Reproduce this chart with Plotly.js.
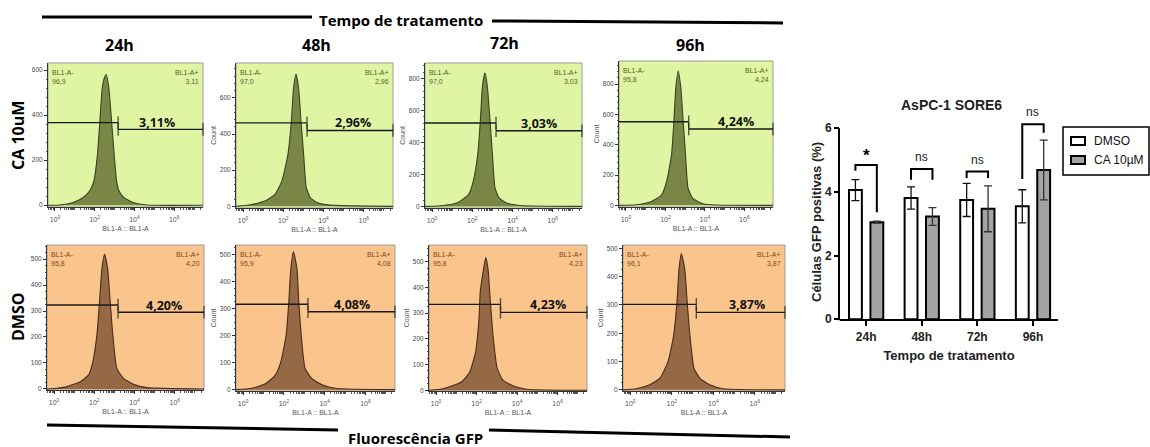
<!DOCTYPE html>
<html><head><meta charset="utf-8">
<script src="https://cdn.plot.ly/plotly-3.0.1.min.js"></script>
<style>html,body{margin:0;padding:0;background:#fff;overflow:hidden;}#chart{width:1150px;height:447px;}</style>
</head><body><div id="chart"></div>
<script>
// ================= DATA =================
const timepoints = ['24h', '48h', '72h', '96h'];
const treatments = ['CA 10uM', 'DMSO'];
const barSeriesNames = ['DMSO', 'CA 10µM'];

// Flow cytometry histograms: log10(BL1-A) vs Count
const ca24Log   = [-0.35, 0.24, 0.91, 1.42, 1.75, 1.96, 2.14, 2.26, 2.38, 2.48, 2.58, 2.71, 2.85, 2.98, 3.10, 3.22, 3.47, 3.94, 4.62, 7.45];
const ca24Count = [0, 1, 12, 34, 64, 108, 226, 374, 522, 565, 581, 522, 374, 226, 108, 64, 34, 12, 1, 0];
const ca48Log   = [-0.35, 0.36, 1.11, 1.60, 1.93, 2.23, 2.40, 2.51, 2.63, 2.76, 2.88, 3.01, 3.14, 3.34, 3.67, 4.34, 7.45];
const ca48Count = [0, 9, 31, 68, 141, 288, 471, 655, 732, 655, 471, 288, 105, 49, 22, 7, 0];
const ca72Log   = [-0.35, 0.56, 1.23, 1.81, 2.05, 2.27, 2.40, 2.50, 2.63, 2.75, 2.88, 3.00, 3.13, 3.33, 3.71, 4.38, 7.45];
const ca72Count = [0, 6, 21, 74, 158, 326, 537, 747, 836, 747, 537, 326, 116, 53, 21, 6, 0];
const ca96Log   = [-0.35, 0.54, 1.22, 1.80, 2.06, 2.31, 2.43, 2.53, 2.65, 2.78, 2.90, 3.02, 3.15, 3.40, 3.91, 4.58, 7.45];
const ca96Count = [0, 4, 22, 67, 156, 333, 555, 778, 886, 778, 555, 333, 111, 44, 11, 2, 0];
const dm24Log   = [-0.35, 0.15, 0.64, 1.30, 1.72, 1.93, 2.13, 2.26, 2.38, 2.51, 2.66, 2.79, 2.92, 3.12, 3.45, 3.95, 4.61, 7.45];
const dm24Count = [0, 3, 9, 28, 54, 105, 208, 336, 464, 518, 464, 336, 208, 79, 41, 18, 5, 0];
const dm48Log   = [-0.35, 0.35, 1.09, 1.57, 1.85, 2.11, 2.24, 2.34, 2.47, 2.64, 2.73, 2.85, 3.04, 3.37, 3.94, 4.59, 7.45];
const dm48Count = [0, 4, 22, 53, 103, 201, 325, 448, 510, 448, 325, 201, 78, 41, 16, 4, 0];
const dm72Log   = [-0.35, 0.34, 1.25, 1.66, 1.95, 2.12, 2.18, 2.35, 2.45, 2.56, 2.68, 2.81, 3.02, 3.30, 3.79, 4.45, 7.45];
const dm72Count = [0, 6, 32, 71, 149, 279, 383, 474, 516, 474, 344, 214, 84, 39, 17, 4, 0];
const dm96Log   = [-0.35, 0.29, 0.94, 1.42, 1.82, 2.09, 2.25, 2.35, 2.46, 2.62, 2.74, 2.87, 3.07, 3.35, 3.83, 4.47, 7.45];
const dm96Count = [0, 4, 18, 41, 100, 194, 312, 429, 482, 429, 312, 194, 76, 41, 18, 4, 0];

// gate (BL1-A- / BL1-A+) in log10 units, and gate bar heights (Count)
const gateMin = -0.35, gateCut = 3.18, gateMax = 7.45;
const gateNegLevel = [367, 462, 522, 551, 323, 316, 334, 302];
const gatePosLevel = [337, 420, 474, 503, 295, 288, 303, 274];
const negPct = ['96,9', '97,0', '97,0', '95,8', '95,8', '95,9', '95,8', '96,1'];
const posPct = ['3,11', '2,96', '3,03', '4,24', '4,20', '4,08', '4,23', '3,87'];
const posPctLabel = ['3,11%', '2,96%', '3,03%', '4,24%', '4,20%', '4,08%', '4,23%', '3,87%'];
const pctLabelX = [5.15, 5.45, 5.3, 5.6, 5.45, 5.35, 5.5, 5.6];
const countTicks = [[0,200,400,600],[0,200,400,600],[0,200,400,600,800],[0,200,400,600,800],
                    [0,100,200,300,400,500],[0,100,200,300,400,500],[0,100,200,300,400,500],[0,100,200,300,400,500]];

// Bar chart: AsPC-1 SORE6
const dmsoMean = [4.06, 3.81, 3.75, 3.55];
const dmsoErr  = [0.33, 0.35, 0.52, 0.52];
const caMean   = [3.05, 3.23, 3.47, 4.69];
const caErr    = [0.03, 0.28, 0.72, 0.94];
const sigLabel = ['*', 'ns', 'ns', 'ns'];
const sigTop   = [4.85, 4.72, 4.64, 6.125];
const sigLeftEnd  = [4.67, 4.38, 4.44, 4.41];
const sigRightEnd = [3.36, 4.38, 4.44, 5.86];

// ================= LAYOUT HELPERS =================
const W = 1150, H = 447;
const px = v => v / W;
const py = v => 1 - v / H;
const histLog = [ca24Log, ca48Log, ca72Log, ca96Log, dm24Log, dm48Log, dm72Log, dm96Log];
const histCount = [ca24Count, ca48Count, ca72Count, ca96Count, dm24Count, dm48Count, dm72Count, dm96Count];
// panel boxes in pixels: [left, right, top, bottom]
const boxes = [[48,203,63,207],[236,393,63,208],[425,582,63,208],[619,773,61,207],
               [47,204,245,390],[236,395,245,391],[429,587,245,391],[623,785,245,391]];
const yRanges = [[-8,632],[-9,793],[-10,898],[-11,952],[-4,554],[-5,535],[-3,565],[-4,512]];
const yMinorStep = [40,40,40,40,25,25,25,25];

const styles = [
  {bg:'#e0f5a4', fill:'rgba(112,124,62,0.92)', line:'#3b4320', txt:'#566128'},
  {bg:'#fac48d', fill:'rgba(140,96,64,0.92)', line:'#4a2c18', txt:'#7a4a22'}
];

const minorX = [];
for (let d = -1; d <= 7; d++) for (let k = 1; k <= 9; k++) {
  const v = d + Math.log10(k);
  if (v > -0.35 && v < 7.45 && !(k === 1 && d % 2 === 0 && d >= 0 && d <= 6)) minorX.push(v);
}

const data = [], shapes = [], annotations = [];
const layout = {
  width: W, height: H, margin: {l:0, r:0, t:0, b:0, autoexpand: false},
  paper_bgcolor: '#fff', plot_bgcolor: 'rgba(0,0,0,0)',
  showlegend: false, bargap: 0.23, bargroupgap: 0.4, barmode: 'group',
  font: {family: 'Liberation Sans, Arial, sans-serif', color: '#222'}
};

for (let i = 0; i < 8; i++) {
  const k = i + 1, row = i < 4 ? 0 : 1, st = styles[row];
  const b = boxes[i];
  const xa = 'x' + k, ya = 'y' + k;
  data.push({type:'scatter', x: histLog[i], y: histCount[i], xaxis: xa, yaxis: ya, mode: 'lines',
    line: {color: st.line, width: 1.1, shape: 'spline', smoothing: 0.5}, fill: 'tozeroy', fillcolor: st.fill,
    hoverinfo: 'skip', showlegend: false});
  data.push({type:'scatter', x: [gateMin, gateCut], y: [gateNegLevel[i], gateNegLevel[i]], xaxis: xa, yaxis: ya,
    mode: 'lines+markers', line: {color: '#1a1a1a', width: 1.4}, cliponaxis: false,
    marker: {symbol: 'line-ns-open', size: [0, 9], line: {width: 1.4, color: '#1a1a1a'}}, hoverinfo: 'skip', showlegend: false});
  data.push({type:'scatter', x: [gateCut, gateMax], y: [gatePosLevel[i], gatePosLevel[i]], xaxis: xa, yaxis: ya,
    mode: 'lines+markers', line: {color: '#1a1a1a', width: 1.4}, cliponaxis: false,
    marker: {symbol: 'line-ns-open', size: [9, 9], line: {width: 1.4, color: '#1a1a1a'}}, hoverinfo: 'skip', showlegend: false});

  const yt = countTicks[i];
  const yMinorVals = [];
  for (let v = 0; v <= yRanges[i][1]; v += yMinorStep[i]) if (yt.indexOf(v) < 0) yMinorVals.push(v);

  layout['xaxis' + k] = {domain: [px(b[0]), px(b[1])], anchor: ya, range: [gateMin, gateMax],
    tickmode: 'array', tickvals: [0, 2, 4, 6], ticktext: ['10<sup>0</sup>', '10<sup>2</sup>', '10<sup>4</sup>', '10<sup>6</sup>'],
    ticks: 'outside', ticklen: 3, tickwidth: 1, tickcolor: '#333', showline: true, linecolor: '#333', linewidth: 1.2,
    showgrid: false, zeroline: false, tickfont: {size: 7, color: '#555'}, ticklabelstandoff: 2,
    minor: {tickmode: 'array', tickvals: minorX, ticks: 'outside', ticklen: 1.5, tickcolor: '#555', showgrid: false},
    title: {text: 'BL1-A :: BL1-A', font: {size: 7, color: '#555'}, standoff: 4}, fixedrange: true};
  layout['yaxis' + k] = {domain: [py(b[3]), py(b[2])], anchor: xa, range: yRanges[i],
    tickmode: 'array', tickvals: yt, ticktext: yt.map(String),
    ticks: 'outside', ticklen: 3, tickwidth: 1, tickcolor: '#333', showline: true, linecolor: '#333', linewidth: 1,
    showgrid: false, zeroline: false, showticklabels: true, tickfont: {size: 6.5, color: '#444'},
    minor: {tickmode: 'array', tickvals: yMinorVals, ticks: 'outside', ticklen: 1.5, tickcolor: '#555', showgrid: false},
    title: {text: (i === 0 || i === 4) ? '' : 'Count', font: {size: 7, color: '#555'}, standoff: 2}, fixedrange: true};

  shapes.push({type: 'rect', xref: xa + ' domain', yref: ya + ' domain', x0: 0, x1: 1, y0: 0, y1: 1,
    fillcolor: st.bg, line: {color: '#9c9c9c', width: 1}, layer: 'below'});
  annotations.push({xref: xa + ' domain', yref: ya + ' domain', x: 0.015, y: 0.975, xanchor: 'left', yanchor: 'top',
    align: 'left', text: 'BL1-A-<br>' + negPct[i], showarrow: false, font: {size: 7, color: st.txt}});
  annotations.push({xref: xa + ' domain', yref: ya + ' domain', x: 0.985, y: 0.975, xanchor: 'right', yanchor: 'top',
    align: 'right', text: 'BL1-A+<br>' + posPct[i], showarrow: false, font: {size: 7, color: st.txt}});
  annotations.push({xref: xa, yref: ya, x: pctLabelX[i], y: gateNegLevel[i], xanchor: 'center', yanchor: 'middle',
    text: posPctLabel[i], showarrow: false, font: {family: 'Open Sans, sans-serif', size: 12.5, weight: 'bold', color: '#111'}});
}

// ---------- bar chart ----------
const catIdx = timepoints.map((t, i) => i);
const slot = (1 - layout.bargap) / 2;
const barFill = ['#ffffff', '#a3a3a3'];
const errColor = ['#111', '#333'];
[dmsoMean, caMean].forEach((means, s) => {
  data.push({type: 'bar', name: barSeriesNames[s], x: catIdx, y: means, xaxis: 'x9', yaxis: 'y9',
    marker: {color: barFill[s], line: {color: '#000', width: 2}},
    error_y: {type: 'data', array: [dmsoErr, caErr][s], visible: true, color: errColor[s], thickness: 1.3, width: 4},
    hoverinfo: 'skip'});
});
for (let i = 0; i < timepoints.length; i++) {
  const xl = catIdx[i] - slot / 2, xr = catIdx[i] + slot / 2;
  data.push({type: 'scatter', x: [xl, xl, xr, xr], y: [sigLeftEnd[i], sigTop[i], sigTop[i], sigRightEnd[i]],
    xaxis: 'x9', yaxis: 'y9', mode: 'lines', line: {color: '#000', width: 2}, cliponaxis: false,
    hoverinfo: 'skip', showlegend: false});
  annotations.push({xref: 'x9', yref: 'y9', x: catIdx[i], y: sigTop[i], xanchor: 'center', yanchor: 'bottom',
    yshift: sigLabel[i] === '*' ? -2 : 3, text: sigLabel[i], showarrow: false,
    font: sigLabel[i] === '*' ? {size: 17, weight: 'bold', color: '#000'} : {size: 12, color: '#222'}});
}
// bar y axis: 0..6 drawn, room above for the 96h bracket
const barYMax = 6.7, barPxPerUnit = (319.3 - 128.3) / 6;
layout.xaxis9 = {domain: [px(840), px(1058)], anchor: 'y9', range: [-0.47, 3.45], tickmode: 'array',
  tickvals: catIdx, ticktext: timepoints, ticks: 'outside', ticklen: 5, tickwidth: 2, tickcolor: '#000',
  showline: true, linecolor: '#000', linewidth: 2, showgrid: false, zeroline: false,
  tickfont: {size: 12, weight: 'bold', color: '#222'},
  title: {text: 'Tempo de tratamento', font: {size: 13, weight: 'bold', color: '#222'}, standoff: 8}, fixedrange: true};
layout.yaxis9 = {domain: [py(319.3), py(319.3 - barYMax * barPxPerUnit)], anchor: 'x9', range: [0, barYMax],
  tickmode: 'array', tickvals: [0, 2, 4, 6],
  ticks: 'outside', ticklen: 5, tickwidth: 2, tickcolor: '#000', showline: false,
  showgrid: false, zeroline: false, tickfont: {size: 12, weight: 'bold', color: '#222'}, fixedrange: true};
shapes.push({type: 'line', xref: 'paper', yref: 'paper', x0: px(839), x1: px(839), y0: py(320.3), y1: py(128.3),
  line: {color: '#000', width: 2}});
annotations.push({xref: 'paper', yref: 'paper', x: px(817), y: py(222), xanchor: 'center', yanchor: 'middle',
  text: 'Células GFP positivas (%)', textangle: -90, showarrow: false, font: {size: 13, weight: 'bold', color: '#222'}});

// legend (drawn as a boxed key)
shapes.push({type: 'rect', xref: 'paper', yref: 'paper', x0: px(1063), x1: px(1149), y0: py(175), y1: py(127),
  line: {color: '#000', width: 1.5}, fillcolor: 'rgba(0,0,0,0)'});
const keyY = [141, 160];
barSeriesNames.forEach((n, s) => {
  shapes.push({type: 'rect', xref: 'paper', yref: 'paper', x0: px(1071), x1: px(1085), y0: py(keyY[s] + 4), y1: py(keyY[s] - 4),
    line: {color: '#000', width: 2}, fillcolor: barFill[s]});
  annotations.push({xref: 'paper', yref: 'paper', x: px(1092), y: py(keyY[s]), xanchor: 'left', yanchor: 'middle',
    text: n, showarrow: false, font: {size: 12, color: '#111'}});
});

// ---------- figure-level text & decorations ----------
const bigFont = {family: 'Open Sans, sans-serif', weight: 'bold', color: '#000'};
function paperText(text, x, y, size, extra) {
  annotations.push(Object.assign({xref: 'paper', yref: 'paper', x: px(x), y: py(y), xanchor: 'center', yanchor: 'middle',
    text: text, showarrow: false, font: Object.assign({size: size}, bigFont)}, extra || {}));
}
paperText('Tempo de tratamento', 401, 20, 15);
paperText('Fluorescência GFP', 415, 438, 15);
const headerX = [119.5, 316, 504, 690], headerY = [45, 45, 43, 45];
timepoints.forEach((t, i) => paperText(t, headerX[i], headerY[i], 16));
const rowY = [136, 317];
treatments.forEach((t, i) => paperText(t, 18, rowY[i], 16, {textangle: -90}));
annotations.push({xref: 'paper', yref: 'paper', x: px(951), y: py(105), xanchor: 'center', yanchor: 'middle',
  text: 'AsPC-1 SORE6', showarrow: false, font: {size: 14, weight: 'bold', color: '#222'}});

const decoLines = [[42, 17, 312, 17], [492, 21, 783, 23], [47, 425, 338, 430], [489, 430, 790, 437]];
decoLines.forEach(l => shapes.push({type: 'line', xref: 'paper', yref: 'paper', x0: px(l[0]), y0: py(l[1]),
  x1: px(l[2]), y1: py(l[3]), line: {color: '#000', width: 3}}));

layout.shapes = shapes;
layout.annotations = annotations;
Plotly.newPlot('chart', data, layout, {displayModeBar: false, staticPlot: true});
</script>
</body></html>
